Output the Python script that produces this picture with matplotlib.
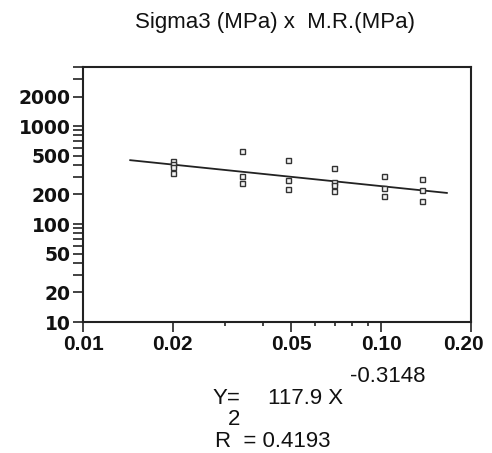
import matplotlib
matplotlib.use("Agg")
import matplotlib.pyplot as plt
import matplotlib.transforms as mtransforms
from matplotlib.ticker import LogLocator, FixedLocator, NullFormatter, FixedFormatter
import numpy as np

# Data
sigma3 = [0.020, 0.020, 0.020, 0.020,
          0.0341, 0.0341, 0.0341,
          0.0488, 0.0488, 0.0488,
          0.0693, 0.0693, 0.0693, 0.0693,
          0.1024, 0.1024, 0.1024,
          0.137, 0.137, 0.137]
mr = [440, 410, 385, 335,
      560, 312, 265,
      455, 278, 226,
      370, 270, 252, 216,
      308, 232, 191,
      285, 220, 170]
fit_a = 117.9
fit_b = -0.3148
fit_r2 = 0.4193
fit_xrange = [0.0144, 0.166]

x_ticks = [0.01, 0.02, 0.05, 0.10, 0.20]
x_labels = ["0.01", "0.02", "0.05", "0.10", "0.20"]
y_ticks = [10, 20, 50, 100, 200, 500, 1000, 2000]
y_labels = ["10", "20", "50", "100", "200", "500", "1000", "2000"]

fig = plt.figure(figsize=(4.92, 4.53), dpi=100)
ax = fig.add_axes([83/492, 1-322/453, (471-83)/492, (322-67)/453])
ax.set_xscale("log")
ax.set_yscale("log")
ax.set_xlim(0.01, 0.20)
ax.set_ylim(10, 4000)

fx = np.geomspace(fit_xrange[0], fit_xrange[1], 50)
ax.plot(fx, fit_a * fx ** fit_b, color="#222222", lw=1.3)
ax.plot(sigma3, mr, linestyle="none", marker="s", ms=3.6, mfc="#f4f4f4",
        mec="#333333", mew=1.0)

ax.xaxis.set_major_locator(FixedLocator(x_ticks))
ax.xaxis.set_major_formatter(FixedFormatter(x_labels))
ax.xaxis.set_minor_locator(LogLocator(base=10, subs=np.arange(2, 10)))
ax.xaxis.set_minor_formatter(NullFormatter())
ax.yaxis.set_major_locator(FixedLocator(y_ticks))
ax.yaxis.set_major_formatter(FixedFormatter(y_labels))
ax.yaxis.set_minor_locator(LogLocator(base=10, subs=np.arange(2, 10)))
ax.yaxis.set_minor_formatter(NullFormatter())

for s in ax.spines.values():
    s.set_linewidth(1.5)
    s.set_color("#222222")
ax.tick_params(axis="both", which="both", direction="out", color="#222222", width=1.2)
ax.tick_params(axis="y", which="both", length=7, pad=2)
ax.tick_params(axis="x", which="major", length=7, pad=2)
ax.tick_params(axis="x", which="minor", length=3)
for lab in ax.get_yticklabels():
    lab.set_fontfamily("DejaVu Sans")
    lab.set_fontweight("bold")
    lab.set_fontsize(13.5)
    lab.set_color("#111111")
xlabs = ax.get_xticklabels()
for lab in xlabs:
    lab.set_fontfamily("Liberation Sans")
    lab.set_fontweight("bold")
    lab.set_fontsize(15)
    lab.set_color("#111111")
xlabs[-1].set_transform(xlabs[-1].get_transform() +
                        mtransforms.ScaledTranslation(-8/100, 0, fig.dpi_scale_trans))

tf = dict(family="Liberation Sans", fontsize=16, color="#111111", va="baseline", ha="left")
fig.text(135/492, 1-28/453, "Sigma3 (MPa) x  M.R.(MPa)", **tf)
fig.text(213/492, 1-404/453, "Y=", **tf)
fig.text(268/492, 1-404/453, f"{fit_a} X", **tf)
fig.text(350/492, 1-381.7/453, f"{fit_b}", **tf)
fig.text(228/492, 1-425/453, "2", **tf)
fig.text(215/492, 1-446.7/453, f"R  = {fit_r2}", **tf)

fig.savefig("out.png", dpi=100)
